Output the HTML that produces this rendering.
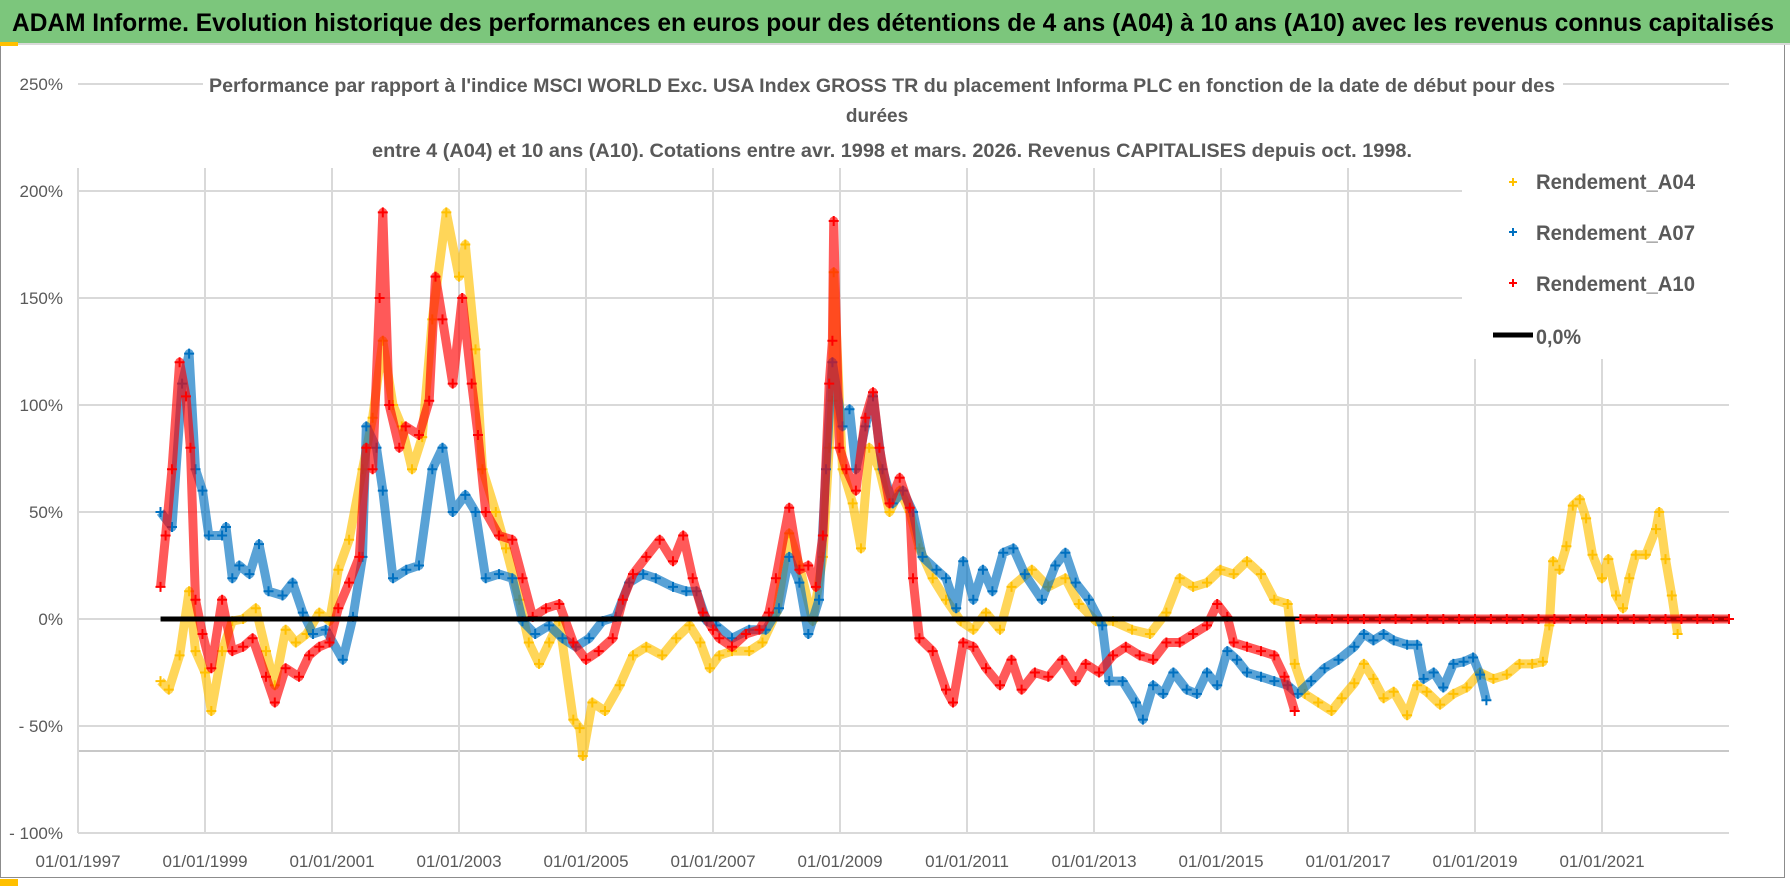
<!DOCTYPE html>
<html><head><meta charset="utf-8"><style>
html,body{margin:0;padding:0;background:#fff;}
svg{display:block;font-family:"Liberation Sans",sans-serif;}
</style></head><body>
<svg id="chart" width="1790" height="886" viewBox="0 0 1790 886" xmlns="http://www.w3.org/2000/svg">
<rect x="0" y="0" width="1790" height="886" fill="#fff"/>
<rect x="0.5" y="0.5" width="1784" height="877" fill="none" stroke="#8c8c8c"/>
<rect x="0" y="0" width="1790" height="43" fill="#7cc67c"/>
<line x1="0" y1="44" x2="1790" y2="44" stroke="#d9d9d9" stroke-width="2"/>
<rect x="0" y="42" width="18" height="4" fill="#ffc000"/>
<rect x="0" y="879" width="18" height="7" fill="#ffc000"/>
<text x="12" y="31" font-size="25" font-weight="bold" fill="#000" textLength="1762" lengthAdjust="spacingAndGlyphs">ADAM Informe. Evolution historique des performances en euros pour des détentions de 4 ans (A04) à 10 ans (A10) avec les revenus connus capitalisés</text>
<g id="grid"></g>
<g id="series"></g>
<rect x="203" y="68" width="1360" height="100" fill="#fff"/>
<g fill="#595959" font-weight="bold" font-size="19" text-anchor="middle">
<text x="882" y="92" textLength="1346" lengthAdjust="spacingAndGlyphs">Performance par rapport à l'indice MSCI WORLD Exc. USA Index GROSS TR  du placement Informa PLC en fonction de la date de début pour des</text>
<text x="877" y="122">durées</text>
<text x="892" y="157" textLength="1040" lengthAdjust="spacingAndGlyphs">entre 4 (A04) et 10 ans (A10).  Cotations entre avr. 1998 et mars. 2026.  Revenus CAPITALISES depuis oct. 1998.</text>
</g>
<g id="axes"></g>
<rect x="1462" y="153" width="300" height="206" fill="#fff"/>
<g font-size="21" font-weight="bold" fill="#595959">
<g><path d="M1509 182h8M1513 178v8" stroke="#ffc000" stroke-width="2"/><text x="1536" y="189" textLength="159" lengthAdjust="spacingAndGlyphs">Rendement_A04</text></g>
<g><path d="M1509 232h8M1513 228v8" stroke="#0070c0" stroke-width="2"/><text x="1536" y="240" textLength="159" lengthAdjust="spacingAndGlyphs">Rendement_A07</text></g>
<g><path d="M1509 283h8M1513 279v8" stroke="#ff0000" stroke-width="2"/><text x="1536" y="291" textLength="159" lengthAdjust="spacingAndGlyphs">Rendement_A10</text></g>
<g><line x1="1493" y1="335" x2="1533" y2="335" stroke="#000" stroke-width="5"/><text x="1536" y="344" textLength="45" lengthAdjust="spacingAndGlyphs">0,0%</text></g>
</g>
</svg>
<script>
const yTicks = [250, 200, 150, 100, 50, 0, -50, -100];
const yTickLabels = ["250%", "200%", "150%", "100%", "50%", "0%", "- 50%", "- 100%"];
const xTicks = [1997, 1999, 2001, 2003, 2005, 2007, 2009, 2011, 2013, 2015, 2017, 2019, 2021];
const xTickLabels = ["01/01/1997","01/01/1999","01/01/2001","01/01/2003","01/01/2005","01/01/2007","01/01/2009","01/01/2011","01/01/2013","01/01/2015","01/01/2017","01/01/2019","01/01/2021"];
const a04Dates = [1998.3,1998.43,1998.6,1998.75,1998.85,1999.0,1999.1,1999.27,1999.43,1999.6,1999.8,1999.96,2000.1,2000.27,2000.43,2000.6,2000.8,2000.96,2001.1,2001.27,2001.48,2001.64,2001.8,2001.96,2002.1,2002.26,2002.42,2002.58,2002.8,2003.0,2003.1,2003.26,2003.37,2003.58,2003.74,2003.95,2004.1,2004.26,2004.42,2004.58,2004.8,2004.9,2004.95,2005.1,2005.3,2005.53,2005.74,2005.95,2006.2,2006.42,2006.63,2006.8,2006.95,2007.1,2007.3,2007.57,2007.78,2008.0,2008.2,2008.36,2008.57,2008.73,2008.83,2008.88,2008.9,2009.04,2009.2,2009.33,2009.46,2009.62,2009.78,2009.94,2010.1,2010.25,2010.46,2010.67,2010.9,2011.1,2011.3,2011.52,2011.7,2012.02,2012.28,2012.55,2012.76,2013.03,2013.3,2013.6,2013.88,2014.14,2014.35,2014.56,2014.78,2014.99,2015.2,2015.41,2015.63,2015.84,2016.05,2016.16,2016.32,2016.53,2016.74,2016.9,2017.1,2017.25,2017.4,2017.56,2017.72,2017.93,2018.09,2018.24,2018.45,2018.66,2018.87,2019.08,2019.29,2019.5,2019.7,2019.9,2020.07,2020.17,2020.23,2020.33,2020.44,2020.54,2020.65,2020.75,2020.85,2021.0,2021.1,2021.22,2021.33,2021.43,2021.53,2021.69,2021.85,2021.9,2022.0,2022.1,2022.19];
const a04Vals = [-29,-33,-17,13,-15,-25,-43,-15,-1,0,5,-15,-31,-5,-11,-7,3,-1,23,37,70,94,130,100,90,70,85,140,190,160,175,126,70,50,33,9,-11,-21,-11,-1,-47,-51,-64,-39,-43,-31,-17,-13,-17,-9,-3,-11,-23,-17,-15,-15,-11,3,40,25,-1,29,80,102,162,70,54,33,80,70,50,60,50,33,19,9,-1,-5,3,-5,15,23,15,19,7,-1,-1,-5,-7,3,19,15,17,23,21,27,21,9,7,-21,-35,-39,-43,-37,-30,-21,-28,-37,-34,-45,-31,-34,-40,-35,-32,-25,-28,-26,-21,-21,-20,-3,27,23,34,53,56,47,30,19,28,11,5,19,30,30,42,50,28,11,-7];
const a07Dates = [1998.3,1998.48,1998.64,1998.75,1998.85,1998.96,1999.06,1999.27,1999.33,1999.43,1999.54,1999.7,1999.85,2000.0,2000.22,2000.38,2000.54,2000.7,2000.9,2001.17,2001.33,2001.48,2001.54,2001.7,2001.8,2001.96,2002.17,2002.37,2002.58,2002.74,2002.9,2003.1,2003.26,2003.42,2003.63,2003.84,2004.0,2004.2,2004.42,2004.63,2004.84,2005.05,2005.26,2005.47,2005.68,2005.9,2006.1,2006.37,2006.58,2006.74,2006.9,2007.05,2007.3,2007.57,2007.83,2008.04,2008.2,2008.36,2008.5,2008.67,2008.78,2008.88,2009.04,2009.15,2009.25,2009.4,2009.52,2009.67,2009.83,2009.99,2010.15,2010.3,2010.52,2010.67,2010.83,2010.94,2011.1,2011.25,2011.4,2011.57,2011.73,2011.91,2012.18,2012.39,2012.55,2012.71,2012.92,2013.13,2013.24,2013.45,2013.66,2013.77,2013.93,2014.09,2014.25,2014.46,2014.62,2014.78,2014.94,2015.1,2015.25,2015.41,2015.63,2015.84,2016.05,2016.21,2016.42,2016.63,2016.85,2017.1,2017.25,2017.4,2017.56,2017.72,2017.93,2018.09,2018.19,2018.35,2018.5,2018.66,2018.82,2018.97,2019.08,2019.18];
const a07Vals = [50,43,110,124,70,60,39,39,43,19,25,21,35,13,11,17,3,-7,-5,-19,1,29,90,80,60,19,23,25,70,80,50,58,50,19,21,19,-1,-7,-3,-9,-13,-9,-1,1,17,21,19,15,13,13,-1,-3,-9,-5,-5,5,29,17,-7,9,70,120,90,98,70,90,104,70,54,60,50,29,23,19,5,27,9,23,13,31,33,21,9,25,31,17,9,-3,-29,-29,-39,-47,-31,-35,-25,-33,-35,-25,-31,-15,-19,-25,-27,-29,-31,-35,-29,-23,-19,-13,-7,-10,-7,-10,-12,-12,-28,-25,-32,-21,-20,-18,-26,-38];
const a10Dates = [1998.3,1998.38,1998.48,1998.6,1998.7,1998.77,1998.85,1998.96,1999.1,1999.27,1999.43,1999.6,1999.75,1999.96,2000.1,2000.27,2000.48,2000.64,2000.8,2000.96,2001.1,2001.27,2001.43,2001.54,2001.64,2001.75,2001.8,2001.9,2002.06,2002.16,2002.37,2002.53,2002.63,2002.74,2002.9,2003.05,2003.2,2003.3,2003.42,2003.63,2003.84,2004.0,2004.16,2004.37,2004.58,2004.8,2005.0,2005.2,2005.42,2005.58,2005.74,2005.95,2006.16,2006.37,2006.53,2006.68,2006.84,2007.0,2007.1,2007.3,2007.52,2007.73,2007.88,2007.99,2008.2,2008.36,2008.5,2008.62,2008.73,2008.83,2008.88,2008.9,2008.99,2009.1,2009.25,2009.4,2009.52,2009.62,2009.78,2009.94,2010.1,2010.15,2010.25,2010.46,2010.67,2010.78,2010.94,2011.1,2011.3,2011.52,2011.7,2011.86,2012.07,2012.28,2012.5,2012.71,2012.87,2013.08,2013.3,2013.5,2013.72,2013.93,2014.14,2014.35,2014.56,2014.78,2014.94,2015.1,2015.2,2015.41,2015.63,2015.84,2016.0,2016.16];
const a10Vals = [15,39,70,120,104,80,9,-7,-23,9,-15,-13,-9,-27,-39,-23,-27,-17,-13,-11,5,17,29,80,70,150,190,100,80,90,86,102,160,140,110,150,110,86,50,39,37,19,1,5,7,-11,-19,-15,-9,9,21,29,37,27,39,19,3,-5,-9,-13,-7,-5,3,19,52,23,25,15,39,110,130,186,80,70,60,94,106,80,54,66,52,19,-9,-15,-33,-39,-11,-13,-23,-31,-19,-33,-25,-27,-19,-29,-21,-25,-17,-13,-17,-19,-11,-11,-7,-3,7,1,-11,-13,-15,-17,-27,-43];
const a10ZeroDates = [2016.25,2016.5,2016.75,2017.0,2017.25,2017.5,2017.75,2018.0,2018.25,2018.5,2018.75,2019.0,2019.25,2019.5,2019.75,2020.0,2020.25,2020.5,2020.75,2021.0,2021.25,2021.5,2021.75,2022.0,2022.25,2022.5,2022.75,2023.0];
const a10ZeroVals = [0,0,0,0,0,0,0,0,0,0,0,0,0,0,0,0,0,0,0,0,0,0,0,0,0,0,0,0];
const zeroLineStart = 1998.3, zeroLineEnd = 2023.0;

const NS = "http://www.w3.org/2000/svg";
const X0 = 78, XPY = 63.5, Y0 = 619, YPP = 2.14;
function xs(yr){ return X0 + (yr - 1997) * XPY; }
function ys(v){ return Y0 - v * YPP; }
function mk(tag, attrs, parent){ const e = document.createElementNS(NS, tag); for (const k in attrs) e.setAttribute(k, attrs[k]); parent.appendChild(e); return e; }

const grid = document.getElementById('grid');
const axes = document.getElementById('axes');
const series = document.getElementById('series');
const plotL = xs(1997), plotR = 1729;

yTicks.forEach((v, i) => {
  const ln = mk('line', {x1: plotL, x2: plotR, y1: ys(v), y2: ys(v), stroke: '#d9d9d9', 'stroke-width': 2}, grid);
  
  
  const t = mk('text', {x: 63, y: ys(v) + 6, 'text-anchor': 'end', 'font-size': 17, fill: '#595959'}, axes);
  t.textContent = yTickLabels[i];
  
  
});
const extra = mk('line', {x1: plotL, x2: plotR, y1: 751, y2: 751, stroke: '#c8c8c8', 'stroke-width': 2}, grid);


xTicks.forEach((yr, i) => {
  const ln = mk('line', {x1: xs(yr), x2: xs(yr), y1: 168, y2: ys(-100), stroke: '#d9d9d9', 'stroke-width': 2}, grid);
  
  
  const t = mk('text', {x: xs(yr), y: 867, 'text-anchor': 'middle', 'font-size': 17, fill: '#595959'}, axes);
  t.textContent = xTickLabels[i];
  
  
});

function drawSeries(dates, vals, color, name){
  const g = mk('g', {}, series);
  
  
  const pts = dates.map((d, i) => xs(d).toFixed(1) + ',' + ys(vals[i]).toFixed(1)).join(' ');
  const pl = mk('polyline', {points: pts, fill: 'none', stroke: color, 'stroke-width': 9, 'stroke-opacity': 0.65, 'stroke-linejoin': 'round'}, g);
  
  
  let d = '';
  dates.forEach((dt, i) => { const x = xs(dt), y = ys(vals[i]); d += 'M' + (x - 5).toFixed(1) + ' ' + y.toFixed(1) + 'h10M' + x.toFixed(1) + ' ' + (y - 5).toFixed(1) + 'v10'; });
  const p = mk('path', {d: d, stroke: color, 'stroke-width': 2, fill: 'none'}, g);
  
  
}
drawSeries(a04Dates, a04Vals, '#ffc000', 'series-a04');
drawSeries(a07Dates, a07Vals, '#0070c0', 'series-a07');
drawSeries(a10Dates, a10Vals, '#ff0000', 'series-a10');
const zl = mk('line', {x1: xs(zeroLineStart), x2: xs(zeroLineEnd), y1: ys(0), y2: ys(0), stroke: '#000', 'stroke-width': 5}, series);


drawSeries(a10ZeroDates, a10ZeroVals, '#ff0000', 'series-a10-zero');
</script>
</body></html>
